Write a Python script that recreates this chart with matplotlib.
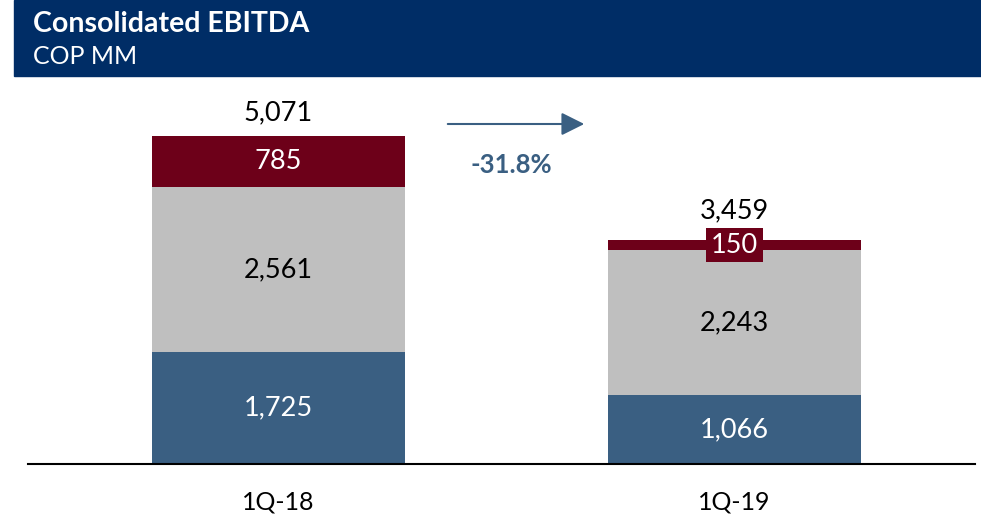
import matplotlib
matplotlib.use("Agg")
import matplotlib.pyplot as plt
from matplotlib.patches import Rectangle, FancyArrowPatch
import numpy as np

plt.rcParams["font.family"] = ["Lato", "DejaVu Sans"]

# === data ===
quarters = ["1Q-18", "1Q-19"]
seg_bottom = [1725, 1066]
seg_middle = [2561, 2243]
seg_top = [785, 150]
totals = [5071, 3459]
change_label = "-31.8%"

NAVY = "#002D66"
BLUE = "#3A5F82"
GRAY = "#BFBFBF"
RED = "#6D0019"

W, H = 981, 519
fig = plt.figure(figsize=(W / 100, H / 100), dpi=100)

# header band
fig.patches.append(Rectangle((14 / W, 1 - 76 / H), 1 - 14 / W, 76 / H,
                             transform=fig.transFigure, color=NAVY, zorder=0))
fig.text(33 / W, 1 - 24 / H, "Consolidated EBITDA", color="white",
         fontsize=20.5, fontweight="bold", va="center", ha="left")
fig.text(33 / W, 1 - 57 / H, "COP MM", color="white",
         fontsize=18, va="center", ha="left")

ax = fig.add_axes([28 / W, (H - 464) / H, (975 - 28) / W, (464 - 90) / H])
x = np.arange(len(quarters))
width = 253 / 456

bottom = np.array(seg_bottom, dtype=float)
middle = np.array(seg_middle, dtype=float)
top = np.array(seg_top, dtype=float)

ax.bar(x, bottom, width, color=BLUE, zorder=2)
ax.bar(x, middle, width, bottom=bottom, color=GRAY, zorder=2)
ax.bar(x, top, width, bottom=bottom + middle, color=RED, zorder=2)

fs = 19.5
for i in range(len(x)):
    ax.text(x[i], bottom[i] / 2, f"{seg_bottom[i]:,}", ha="center", va="center",
            color="white", fontsize=fs, zorder=3)
    ax.text(x[i], bottom[i] + middle[i] / 2, f"{seg_middle[i]:,}", ha="center",
            va="center", color="black", fontsize=fs, zorder=3)
    ax.text(x[i], bottom[i] + middle[i] + top[i] / 2, f"{seg_top[i]:,}",
            ha="center", va="center", color="white", fontsize=fs, zorder=3,
            bbox=dict(boxstyle="square,pad=0.18", fc=RED, ec="none"))
    off = 8 if i == 0 else 12
    ax.annotate(f"{totals[i]:,}", (x[i], totals[i]), xytext=(0, off),
                textcoords="offset points", ha="center", va="bottom",
                fontsize=fs, color="black")

ax.set_xlim(-(278.5 - 28) / 456, 1 + (975 - 734.5) / 456)
ax.set_ylim(0, 374 / (328 / 5071))

# change arrow
arrow = FancyArrowPatch((445 / W, 1 - 124 / H), (587 / W, 1 - 124 / H),
                        transform=fig.transFigure,
                        arrowstyle="-|>,head_length=10,head_width=5",
                        color=BLUE, lw=1.5, mutation_scale=1.4)
fig.patches.append(arrow)
fig.text(511 / W, 1 - 165 / H, change_label, color=BLUE, fontsize=18.5,
         fontweight="bold", ha="center", va="center")

for s in ["top", "right", "left"]:
    ax.spines[s].set_visible(False)
ax.spines["bottom"].set_linewidth(1.5)
ax.set_yticks([])
ax.set_xticks(x)
ax.set_xticklabels(quarters, fontsize=18)
ax.tick_params(axis="x", length=0, pad=19)
ax.patch.set_alpha(0)

fig.savefig("out.png", dpi=100)
